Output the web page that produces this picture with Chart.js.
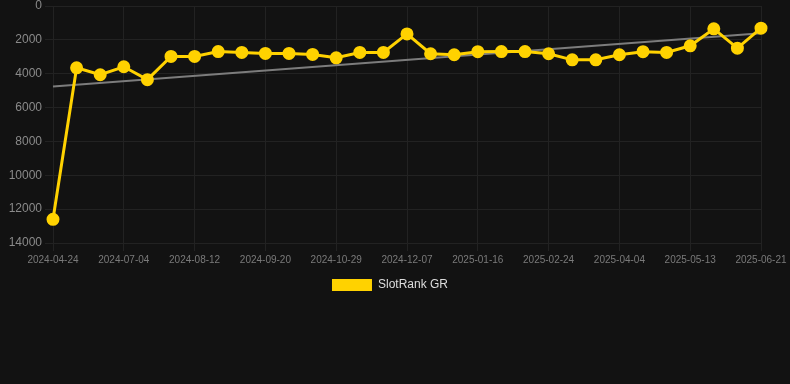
<!DOCTYPE html>
<html>
<head>
<meta charset="utf-8">
<script src="https://cdn.jsdelivr.net/npm/chart.js@4"></script>
<style>
  html, body { margin: 0; padding: 0; background: #121212; }
  #wrap { width: 790px; height: 301px; position: relative; }
</style>
</head>
<body>
<div id="wrap"><canvas id="rankChart"></canvas></div>
<script>
const dates = [
    '2024-04-24', '2024-06-08', '2024-06-21', '2024-07-04', '2024-07-17', '2024-07-30',
    '2024-08-12', '2024-08-25', '2024-09-07', '2024-09-20', '2024-10-03', '2024-10-16',
    '2024-10-29', '2024-11-11', '2024-11-24', '2024-12-07', '2024-12-20', '2025-01-03',
    '2025-01-16', '2025-01-29', '2025-02-11', '2025-02-24', '2025-03-09', '2025-03-22',
    '2025-04-04', '2025-04-17', '2025-04-30', '2025-05-13', '2025-05-26', '2025-06-08',
    '2025-06-21'
];
const rankGR = [
    12600, 3650, 4060, 3590, 4350, 2980, 2980, 2690, 2745, 2800, 2800, 2860,
    3060, 2745, 2745, 1650, 2820, 2880, 2700, 2690, 2690, 2820, 3180, 3180,
    2880, 2700, 2745, 2350, 1350, 2490, 1310
];
// trend line end points (start, end)
const trendEnds = [4760, 1610];
const yTicks = [0, 2000, 4000, 6000, 8000, 10000, 12000, 14000];

const trendData = dates.map((_, i) => i === 0 ? trendEnds[0] : (i === dates.length - 1 ? trendEnds[1] : null));

Chart.defaults.font.family = 'Arial, "Liberation Sans", sans-serif';

const ctx = document.getElementById('rankChart').getContext('2d');
new Chart(ctx, {
    type: 'line',
    data: {
        labels: dates,
        datasets: [{
            label: 'SlotRank GR',
            data: rankGR,
            borderColor: '#ffd200',
            backgroundColor: '#ffd200',
            borderWidth: 3,
            pointRadius: 5,
            pointHoverRadius: 6,
            tension: 0,
            fill: false
        }, {
            label: 'Trend',
            data: trendData,
            borderColor: '#7c7c7c',
            borderWidth: 2,
            pointRadius: 0,
            spanGaps: true,
            fill: false
        }]
    },
    options: {
        responsive: true,
        maintainAspectRatio: false,
        animation: false,
        layout: { autoPadding: false, padding: { top: 0, right: 10, bottom: 0, left: 0 } },
        plugins: {
            legend: {
                position: 'bottom',
                labels: {
                    color: '#dddddd',
                    boxWidth: 40,
                    boxHeight: 12,
                    font: { size: 12 },
                    filter: item => item.text !== 'Trend',
                    generateLabels: chart => Chart.defaults.plugins.legend.labels.generateLabels(chart)
                        .map(item => Object.assign(item, { lineWidth: 0 }))
                }
            },
            tooltip: { enabled: false }
        },
        scales: {
            x: {
                grid: { color: '#222222', tickColor: '#222222' },
                border: { color: '#222222' },
                afterFit: axis => { axis.paddingRight = 29; axis.paddingLeft = 0; },
                ticks: {
                    color: '#7a7a7a',
                    font: { size: 10 },
                    maxRotation: 0,
                    autoSkip: true,
                    maxTicksLimit: 11
                }
            },
            y: {
                reverse: true,
                min: 0,
                max: 14000,
                grid: { color: '#222222', tickColor: '#222222' },
                border: { color: '#222222' },
                afterBuildTicks: axis => { axis.ticks = yTicks.map(v => ({ value: v })); },
                afterFit: axis => { axis.width = 53; axis.paddingTop = 6; },
                ticks: {
                    color: '#8a8a8a',
                    font: { size: 12 },
                    callback: v => String(v)
                }
            }
        }
    }
});
</script>
</body>
</html>
